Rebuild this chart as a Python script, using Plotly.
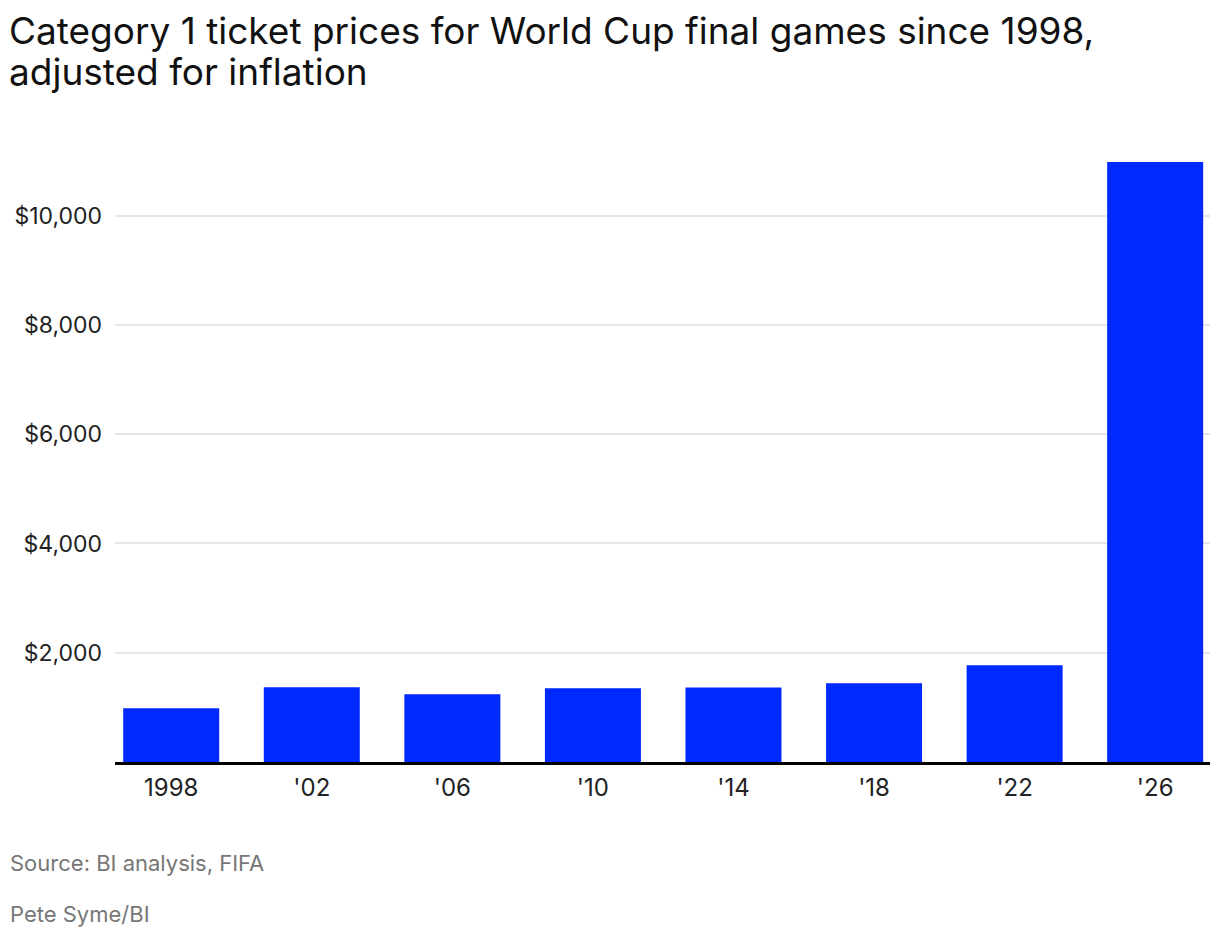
import plotly.graph_objects as go

years = ["1998", "'02", "'06", "'10", "'14", "'18", "'22", "'26"]
prices = [985, 1368, 1240, 1350, 1362, 1441, 1771, 10983]
y_ticks = [2000, 4000, 6000, 8000, 10000]
y_tick_labels = ["$2,000", "$4,000", "$6,000", "$8,000", "$10,000"]

title_lines = [
    "Category 1 ticket prices for World Cup final games since 1998,",
    "adjusted for inflation",
]
source_text = "Source: BI analysis, FIFA"
credit_text = "Pete Syme/BI"

FONT = "Inter"
W, H = 1220, 938
ML, MR, MT, MB = 115, 10, 162, 176
PW = W - ML - MR
PH = H - MT - MB


def px_x(x):
    return (x - ML) / PW


def px_y(y):
    return 1 + (MT - y) / PH


fig = go.Figure(
    go.Bar(
        x=years,
        y=prices,
        marker=dict(color="#0029FF", line=dict(width=0)),
        hoverinfo="x+y",
    )
)

fig.update_layout(
    width=W,
    height=H,
    margin=dict(l=ML, r=MR, t=MT, b=MB),
    paper_bgcolor="white",
    plot_bgcolor="white",
    bargap=0.317,
    showlegend=False,
    font=dict(family=FONT, color="#222222"),
)

fig.update_xaxes(
    type="category",
    range=[-0.4, 7.39],
    showgrid=False,
    showline=True,
    linecolor="black",
    linewidth=3,
    ticks="",
    tickfont=dict(size=24, color="#222222", family=FONT),
    ticklabelstandoff=2,
)

fig.update_yaxes(
    range=[0, 10983],
    tickvals=y_ticks,
    ticktext=y_tick_labels,
    showgrid=True,
    gridcolor="#e6e6e6",
    gridwidth=2,
    zeroline=False,
    showline=False,
    ticks="",
    tickfont=dict(size=23, color="#222222", family=FONT),
    ticklabelstandoff=12,
)

for line, yc in zip(title_lines, [30, 71]):
    fig.add_annotation(
        text=line,
        xref="paper", yref="paper",
        x=px_x(7), y=px_y(yc),
        xanchor="left", yanchor="middle",
        align="left",
        showarrow=False,
        font=dict(size=37, color="#111111", family=FONT),
    )

for txt, yc in [(source_text, 863), (credit_text, 914)]:
    fig.add_annotation(
        text=txt,
        xref="paper", yref="paper",
        x=px_x(8), y=px_y(yc),
        xanchor="left", yanchor="middle",
        showarrow=False,
        font=dict(size=22, color="#777777", family=FONT),
    )

fig.write_html("out.html")
